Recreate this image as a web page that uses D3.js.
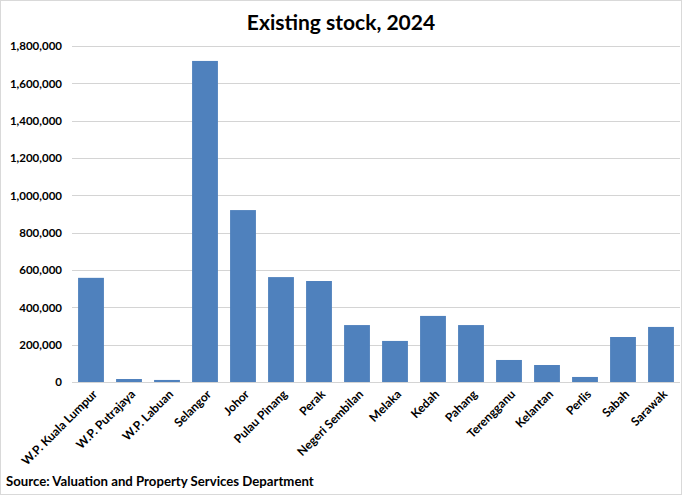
<!DOCTYPE html>
<html>
<head>
<meta charset="utf-8">
<script src="https://cdn.jsdelivr.net/npm/d3@7"></script>
<style>
  html, body { margin: 0; padding: 0; background: #fff; }
  svg { display: block; font-family: Lato, "Liberation Sans", sans-serif; }
</style>
</head>
<body>
<svg id="chart" width="683" height="496"></svg>
<script>
const categories = ["W.P. Kuala Lumpur", "W.P. Putrajaya", "W.P. Labuan", "Selangor", "Johor",
  "Pulau Pinang", "Perak", "Negeri Sembilan", "Melaka", "Kedah", "Pahang", "Terengganu",
  "Kelantan", "Perlis", "Sabah", "Sarawak"];
const stock = [558000, 16000, 11000, 1720000, 921000, 562000, 541000, 305000, 220000,
  354000, 305000, 118000, 91000, 27000, 241000, 295000];
const yTicks = [0, 200000, 400000, 600000, 800000, 1000000, 1200000, 1400000, 1600000, 1800000];
const title = "Existing stock, 2024";
const source = "Source: Valuation and Property Services Department";

const W = 683, H = 496;
const margin = { left: 72, right: 3, top: 46, bottom: 114 };
const svg = d3.select("#chart");

svg.append("rect").attr("x", 0.5).attr("y", 0.5).attr("width", W - 2).attr("height", H - 2)
  .attr("fill", "#fff").attr("stroke", "#d9d9d9");

const x = d3.scaleBand().domain(categories).range([margin.left, W - margin.right]).paddingInner(0.32).paddingOuter(0.16);
const y = d3.scaleLinear().domain([0, 1800000]).range([H - margin.bottom, margin.top]);

// gridlines
svg.append("g").selectAll("line").data(yTicks).join("line")
  .attr("x1", margin.left).attr("x2", W - margin.right)
  .attr("y1", d => Math.round(y(d)) + 0.5).attr("y2", d => Math.round(y(d)) + 0.5)
  .attr("stroke", "#d4d4d4").attr("stroke-width", 1.2);

// y axis labels
const yAxis = d3.axisLeft(y).tickValues(yTicks).tickSize(0).tickPadding(10).tickFormat(d3.format(","));
const gy = svg.append("g").attr("transform", `translate(${margin.left},0)`).call(yAxis);
gy.select(".domain").remove();
gy.selectAll("text").attr("font-size", "11.5px").attr("font-weight", "bold").attr("fill", "#000")
  .attr("font-family", "Lato, sans-serif");

// bars
svg.append("g").selectAll("rect").data(categories).join("rect")
  .attr("x", d => x(d)).attr("width", x.bandwidth())
  .attr("y", (d, i) => y(stock[i])).attr("height", (d, i) => y(0) - y(stock[i]))
  .attr("fill", "#4f81bd");

// x axis
const xAxis = d3.axisBottom(x).tickSize(0).tickPadding(0);
const gx = svg.append("g").attr("transform", `translate(0,${y(0)})`).call(xAxis);
gx.select(".domain").remove();
gx.selectAll("text")
  .attr("font-size", "12px").attr("font-weight", "bold").attr("fill", "#000")
  .attr("font-family", "Lato, sans-serif")
  .attr("text-anchor", "end")
  .attr("dy", "0.35em")
  .attr("transform", "translate(4,10) rotate(-45)");

// title
svg.append("text").attr("x", 341).attr("y", 30).attr("text-anchor", "middle")
  .attr("font-size", "21px").attr("font-weight", "bold").attr("fill", "#000").text(title);

// source
svg.append("text").attr("x", 6).attr("y", 486)
  .attr("font-size", "13.2px").attr("font-weight", "bold").attr("fill", "#000").text(source);
</script>
</body>
</html>
